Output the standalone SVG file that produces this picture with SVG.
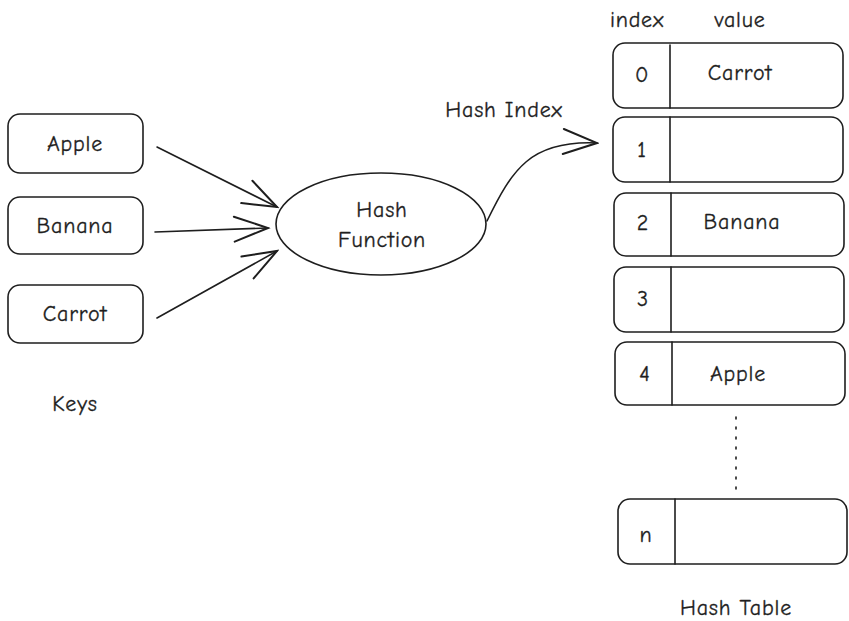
<svg xmlns="http://www.w3.org/2000/svg" width="849" height="621" viewBox="0 0 849 621">
<style>
.box{fill:#fff;stroke:#1e1e1e;stroke-width:1.6}
.ln{fill:none;stroke:#1e1e1e;stroke-width:1.6;stroke-linecap:round}
.t{font-family:"Comic Neue","Liberation Sans",sans-serif;font-size:22px;letter-spacing:0.8px;fill:#1e1e1e;stroke:#1e1e1e;stroke-width:0.3;text-anchor:middle;dominant-baseline:central}
</style>
<defs>
<marker id="ah" markerUnits="userSpaceOnUse" markerWidth="40" markerHeight="40" viewBox="-30 -15 32 30" refX="0" refY="0" orient="auto">
<path d="M-27,-10 L0,0 L-27,10" fill="none" stroke="#1e1e1e" stroke-width="1.6" stroke-linecap="round"/>
</marker>
</defs>
<g id="keys">
<g id="key-apple"><rect class="box" x="8" y="114" width="135" height="59" rx="12"/><text class="t" x="75" y="144">Apple</text></g>
<g id="key-banana"><rect class="box" x="8" y="197" width="135" height="57" rx="12"/><text class="t" x="75" y="226">Banana</text></g>
<g id="key-carrot"><rect class="box" x="8" y="285" width="135" height="58" rx="12"/><text class="t" x="75" y="314">Carrot</text></g>
<text id="keys-label" class="t" x="75" y="404">Keys</text>
</g>
<g id="hash-function">
<ellipse class="box" cx="381" cy="224" rx="105" ry="51"/>
<text class="t" x="382" y="210">Hash</text>
<text class="t" x="382" y="240">Function</text>
</g>
<g id="connectors">
<path class="ln" d="M157,147 L277,207" marker-end="url(#ah)"/>
<path class="ln" d="M155,232 L268,228" marker-end="url(#ah)"/>
<path class="ln" d="M157,318 L277,251" marker-end="url(#ah)"/>
<path class="ln" d="M487,221 C512,170 530,140 597,143" marker-end="url(#ah)"/>
<path class="ln" d="M736,417 L736,490" stroke-dasharray="2,8" stroke-width="2"/>
<text class="t" x="504" y="110">Hash Index</text>
</g>
<g id="hash-table">
<text class="t" x="637" y="20">index</text>
<text class="t" x="740" y="20">value</text>
<g id="row-0"><rect class="box" x="613" y="43" width="230" height="65" rx="12"/><path class="ln" d="M670,45 L670,108"/><text class="t" x="642" y="75">0</text><text class="t" x="740" y="73">Carrot</text></g>
<g id="row-1"><rect class="box" x="613" y="117" width="230" height="65" rx="12"/><path class="ln" d="M670,117 L670,182"/><text class="t" x="642" y="150">1</text></g>
<g id="row-2"><rect class="box" x="614" y="193" width="230" height="63" rx="12"/><path class="ln" d="M671,193 L671,256"/><text class="t" x="643" y="223">2</text><text class="t" x="742" y="222">Banana</text></g>
<g id="row-3"><rect class="box" x="614" y="267" width="230" height="65" rx="12"/><path class="ln" d="M671,267 L671,332"/><text class="t" x="643" y="299">3</text></g>
<g id="row-4"><rect class="box" x="615" y="342" width="230" height="63" rx="12"/><path class="ln" d="M672,342 L672,405"/><text class="t" x="645" y="374">4</text><text class="t" x="738" y="374">Apple</text></g>
<g id="row-n"><rect class="box" x="618" y="499" width="229" height="65" rx="12"/><path class="ln" d="M675,499 L675,564"/><text class="t" x="646" y="535">n</text></g>
<text class="t" x="736" y="608">Hash Table</text>
</g>
</svg>
